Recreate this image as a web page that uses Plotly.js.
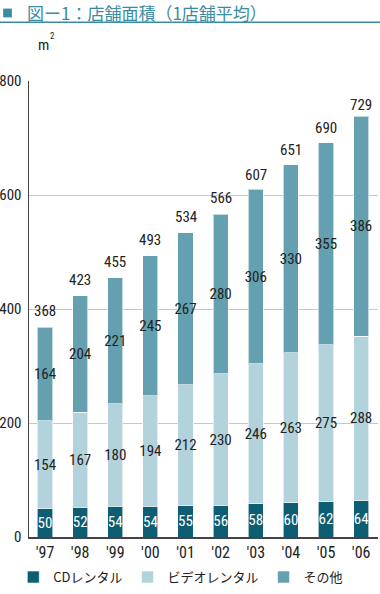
<!DOCTYPE html>
<html><head><meta charset="utf-8">
<script src="https://cdn.plot.ly/plotly-3.0.1.min.js"></script>
<style>body{margin:0;padding:0;background:#fff}#c{width:380px;height:594px}</style>
</head><body><div id="c"></div>
<script>
const years = ["'97","'98","'99","'00","'01","'02","'03","'04","'05","'06"];
const cd = [50,52,54,54,55,56,58,60,62,64];
const video = [154,167,180,194,212,230,246,263,275,288];
const other = [164,204,221,245,267,280,306,330,355,386];
const totals = [368,423,455,493,534,566,607,651,690,729];
const yTicks = [0,200,400,600,800];

const idx = years.map((_, i) => i);
const narrow = "Roboto Condensed, DejaVu Sans Condensed, Liberation Sans Narrow, Roboto, sans-serif";
const jp = "Noto Sans CJK JP, sans-serif";
const bw = 0.43;
function bar(name, vals, color, tcolor) {
  return {type:'bar', name:name, x:idx, y:vals, width:bw, marker:{color:color, line:{width:1, color:'rgba(255,255,255,0.6)'}},
    text:vals.map(String), textposition:'inside', insidetextanchor:'middle', constraintext:'none', textangle:0,
    textfont:{family:narrow, size:15, color:tcolor}, hoverinfo:'skip'};
}
const data = [
  bar('CDレンタル', cd, '#0d5d73', '#ffffff'),
  bar('ビデオレンタル', video, '#b3d3dc', '#222222'),
  bar('その他', other, '#64a0b0', '#222222')
];
const annotations = totals.map((t, i) => ({x:i, y:t, text:String(t), showarrow:false, yanchor:'bottom', yshift:5,
  font:{family:narrow, size:15, color:'#222'}}));
annotations.push({xref:'paper', yref:'paper', x:0.02, y:1.055, xanchor:'left', yanchor:'bottom', text:'m', showarrow:false,
  font:{family:narrow, size:15, color:'#222'}});
annotations.push({xref:'paper', yref:'paper', x:0.055, y:1.083, xanchor:'left', yanchor:'bottom', text:'2', showarrow:false,
  font:{family:narrow, size:9, color:'#222'}});
const layout = {
  width:380, height:594, margin:{l:29, r:2, t:81, b:47},
  paper_bgcolor:'#fff', plot_bgcolor:'#fff',
  title:{text:'図ー1：店舗面積（1店舗平均）', x:0, xref:'container', xanchor:'left', y:0.977, yanchor:'middle', yref:'container',
    font:{family:jp, size:17, color:'#3a8ca0'}, pad:{l:27}},
  barmode:'stack', bargap:0,
  xaxis:{type:'linear', range:[-0.456, 9.48], tickvals:idx, ticktext:years, showgrid:false, zeroline:false,
    showline:true, linecolor:'#444', linewidth:1.5, ticks:'', tickfont:{family:narrow, size:16, color:'#222'}, fixedrange:true},
  yaxis:{range:[0,800], tickvals:yTicks, showgrid:true, gridcolor:'#c8c8c8', gridwidth:1, zeroline:false,
    showline:true, linecolor:'#444', linewidth:1.5, ticks:'', tickfont:{family:narrow, size:15, color:'#222'}, ticklabelstandoff:3},
  showlegend:true,
  legend:{orientation:'h', x:-0.045, xanchor:'left', y:-0.055, yanchor:'top', traceorder:'normal',
    font:{family:jp, size:13, color:'#222'}, itemwidth:30, bgcolor:'rgba(0,0,0,0)'},
  annotations:annotations,
  shapes:[
    {type:'line', xref:'paper', yref:'paper', x0:-0.09, x1:1.01, y0:1.1288, y1:1.1288, line:{color:'#3a8ca0', width:1.5}},
    {type:'rect', xref:'paper', yref:'paper', x0:-0.074, x1:-0.049, y0:1.1395, y1:1.1588, fillcolor:'#3a8ca0', line:{width:0}}
  ]
};
Plotly.newPlot('c', data, layout, {displayModeBar:false, staticPlot:true});
</script></body></html>
